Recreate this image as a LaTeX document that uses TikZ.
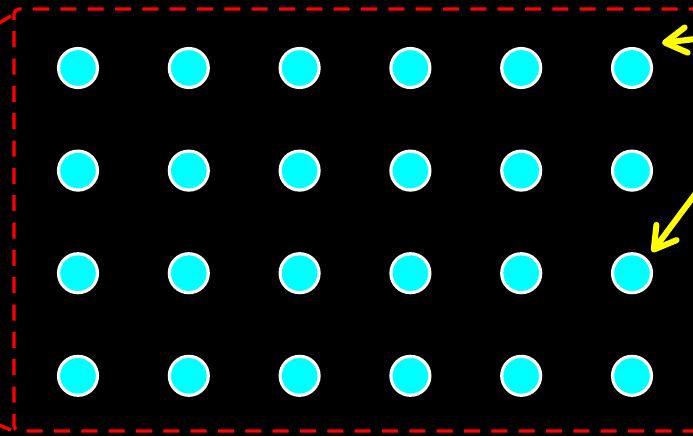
\documentclass[tikz,border=0pt]{standalone}
\usetikzlibrary{arrows.meta}
\definecolor{holecyan}{RGB}{0,255,255}
\definecolor{marky}{RGB}{255,255,0}
\definecolor{framered}{RGB}{255,0,0}
\begin{document}
\begin{tikzpicture}[x=0.75pt,y=-0.75pt,
  hole/.style={circle,fill=holecyan,draw=white,line width=2.4pt,minimum size=29.2pt,inner sep=0pt},
  frame/.style={framered,line width=2.5pt,dash pattern=on 12pt off 8.5pt},
  pointer/.style={marky,line width=4.5pt,line cap=round,-{Straight Barb[round,length=16pt,width=19pt]}}]
\fill[black] (0,0) rectangle (693,436);
\useasboundingbox (0,0) rectangle (693,436);
% frame of the plate
\draw[frame,rounded corners=4pt] (705,9) -- (14,9) -- (14,431) -- (705,431);
\draw[frame] (11,16) -- (-6,26);
\draw[frame] (11,430) -- (-6,423);
% grid of holes
\foreach \i in {1,...,6} {
  \foreach \j in {1,...,4} {
    \node[hole] (h\i\j) at ({78+110.8*(\i-1)},{68+102.6*(\j-1)}) {};
  }
}
% pointers
\coordinate (p1) at (703,38);
\coordinate (p2) at (702,185);
\draw[pointer] (p1) -- (662,43);
\draw[pointer] (p2) -- (652,252);
\end{tikzpicture}
\end{document}
